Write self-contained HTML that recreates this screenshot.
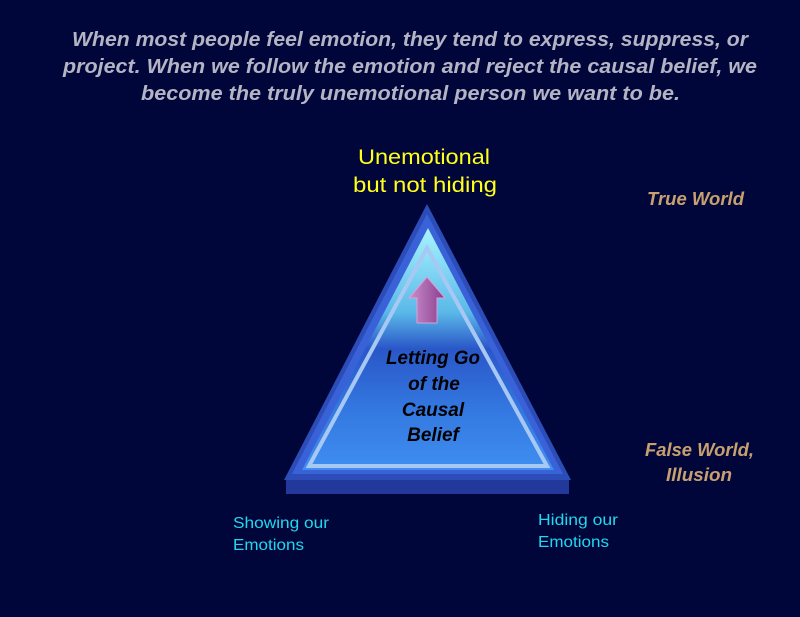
<!DOCTYPE html>
<html><head><meta charset="utf-8"><style>
html,body{margin:0;padding:0;background:#00063a;}
svg{display:block}
</style></head><body>
<svg width="800" height="617" viewBox="0 0 800 617" xmlns="http://www.w3.org/2000/svg">
<defs>
<linearGradient id="g1" x1="0" y1="0" x2="0" y2="1">
<stop offset="0" stop-color="#a8f4ff"/>
<stop offset="0.35" stop-color="#5ab8e8"/>
<stop offset="0.5" stop-color="#2a56c8"/>
<stop offset="0.75" stop-color="#3378e0"/>
<stop offset="1" stop-color="#3f8ef0"/>
</linearGradient>
<linearGradient id="ar" x1="0" y1="0" x2="1" y2="0">
<stop offset="0" stop-color="#c990cc"/>
<stop offset="1" stop-color="#8a3c8c"/>
</linearGradient>
</defs>
<rect width="800" height="617" fill="#00063a"/>
<g font-family="Liberation Sans, sans-serif" font-weight="bold" font-style="italic" font-size="20" fill="#b4b4c4">
<text x="72" y="46" textLength="676" lengthAdjust="spacingAndGlyphs">When most people feel emotion, they tend to express, suppress, or</text>
<text x="63" y="73" textLength="694" lengthAdjust="spacingAndGlyphs">project.  When we follow the emotion and reject the causal belief, we</text>
<text x="141" y="100" textLength="539" lengthAdjust="spacingAndGlyphs">become the truly unemotional person we want to be.</text>
</g>
<g font-family="Liberation Sans, sans-serif" font-size="21" fill="#ffff1a">
<text x="358" y="164" textLength="132" lengthAdjust="spacingAndGlyphs">Unemotional</text>
<text x="353" y="192" textLength="144" lengthAdjust="spacingAndGlyphs">but not hiding</text>
</g>
<g font-family="Liberation Sans, sans-serif" font-weight="bold" font-style="italic" font-size="18" fill="#c8a070">
<text x="647" y="205" textLength="97" lengthAdjust="spacingAndGlyphs">True World</text>
<text x="645" y="456" textLength="109" lengthAdjust="spacingAndGlyphs">False World,</text>
<text x="666" y="481" textLength="66" lengthAdjust="spacingAndGlyphs">Illusion</text>
</g>
<g font-family="Liberation Sans, sans-serif" font-size="16" fill="#20d8f0">
<text x="233" y="528" textLength="96" lengthAdjust="spacingAndGlyphs">Showing our</text>
<text x="233" y="550" textLength="71" lengthAdjust="spacingAndGlyphs">Emotions</text>
<text x="538" y="525" textLength="80" lengthAdjust="spacingAndGlyphs">Hiding our</text>
<text x="538" y="547" textLength="71" lengthAdjust="spacingAndGlyphs">Emotions</text>
</g>
<rect x="286" y="479" width="283" height="15" fill="#22389a"/>
<polygon points="427,204 284,480 571,480" fill="#2c4cb8"/>
<polygon points="427,214 292,474 563,474" fill="#3a62d8"/>
<polygon points="428,228 302,470 554,470" fill="url(#g1)"/>
<polygon points="427,248 309,466 547,466" fill="none" stroke="#a8c8f4" stroke-width="4"/>
<polygon points="427,277 409,298 417,298 417,323 437,323 437,298 445,298" fill="url(#ar)" stroke="#d8a0d8" stroke-width="1"/>
<g font-family="Liberation Sans, sans-serif" font-weight="bold" font-style="italic" font-size="19" fill="#000" text-anchor="middle">
<text x="433" y="364" textLength="94" lengthAdjust="spacingAndGlyphs">Letting Go</text>
<text x="434" y="390">of the</text>
<text x="433" y="416">Causal</text>
<text x="433" y="441">Belief</text>
</g>
</svg>
</body></html>
